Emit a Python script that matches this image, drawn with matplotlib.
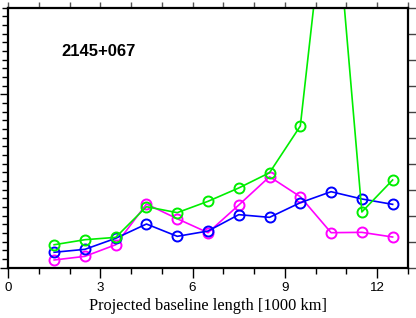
import matplotlib
matplotlib.use("Agg")
import matplotlib.pyplot as plt
from matplotlib.ticker import MultipleLocator, FixedLocator, NullFormatter

x = [1.5, 2.5, 3.5, 4.5, 5.5, 6.5, 7.5, 8.5, 9.5, 10.5, 11.5, 12.5]
blue = [1.78, 2.12, 3.39, 5.04, 3.62, 4.23, 6.12, 5.81, 7.5, 8.77, 7.93, 7.31]
magenta = [0.89, 1.31, 2.65, 7.35, 5.65, 4.04, 7.23, 10.5, 8.19, 4.04, 4.08, 3.54]
green = [2.65, 3.23, 3.5, 7.04, 6.35, 7.66, 9.2, 10.96, 16.35, 48.0, 6.43, 10.12]
xticks = [0, 3, 6, 9, 12]
xticklabels = ["0", "3", "6", "9", "12"]
title = "2145+067"
xlabel = "Projected baseline length [1000 km]"

fig = plt.figure(figsize=(4.16, 3.18), dpi=100)
ax = fig.add_axes([8/416, 1 - 267.7/318, 400/416, 260/318])
ax.set_xlim(0, 13)
ax.set_ylim(0, 30)

mk = dict(marker='o', markersize=7.2, markerfacecolor='none', markeredgewidth=1.4, linewidth=1.2, clip_on=True)
ax.plot(x, magenta, color='#ff00ff', **mk)
ax.plot(x, blue, color='#0000ff', **mk)
ax.plot(x, green, color='#00ee00', **mk)

for s in ax.spines.values():
    s.set_linewidth(1.6)

ax.xaxis.set_major_locator(FixedLocator(xticks))
ax.set_xticklabels(xticklabels, fontfamily='Liberation Sans', fontsize=9.6)
ax.xaxis.set_minor_locator(MultipleLocator(1))
ax.tick_params(axis='x', which='major', direction='out', length=7, width=1.0, pad=3.5)
ax.tick_params(axis='x', which='minor', direction='out', length=4.5, width=1.0)

ax.yaxis.set_major_locator(FixedLocator([0, 20]))
ax.yaxis.set_minor_locator(MultipleLocator(1))
ax.yaxis.set_major_formatter(NullFormatter())
ax.tick_params(axis='y', which='major', direction='out', length=5.5, width=1.0)
ax.tick_params(axis='y', which='minor', direction='out', length=4, width=1.0)

top = ax.secondary_xaxis('top')
top.xaxis.set_major_locator(MultipleLocator(1))
top.xaxis.set_major_formatter(NullFormatter())
top.tick_params(direction='out', length=4.5, width=1.0, color='#555555')
top.spines['top'].set_visible(False)

right = ax.secondary_yaxis('right')
right.yaxis.set_major_locator(MultipleLocator(3))
right.yaxis.set_major_formatter(NullFormatter())
right.tick_params(direction='out', length=6, width=1.0, color='#444444')
right.spines['right'].set_visible(False)

ax.set_xlabel(xlabel, fontfamily='Liberation Serif', fontsize=11.8, labelpad=3)
ax.text(61.5/416, 1 - 51.5/318, title, transform=fig.transFigure, fontfamily='Liberation Sans',
        fontweight='bold', fontsize=12, ha='left', va='center')

fig.savefig('out.png', dpi=100)
